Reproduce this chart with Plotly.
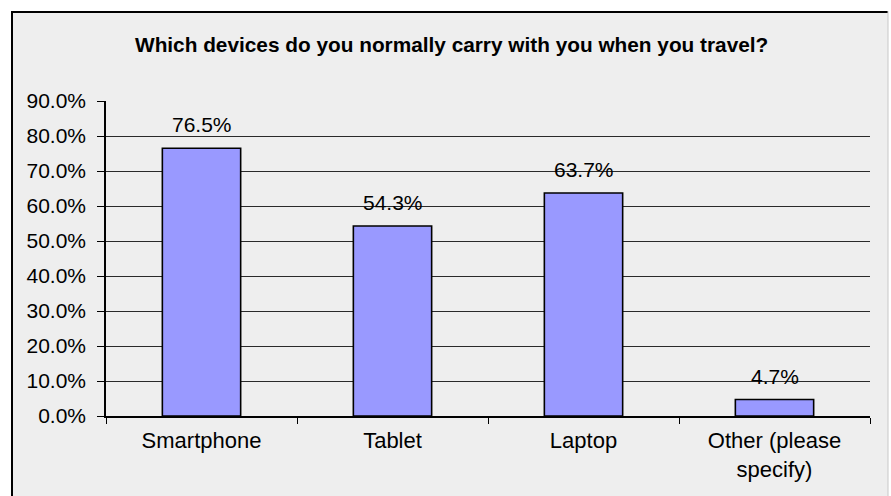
import plotly.graph_objects as go

categories = ["Smartphone", "Tablet", "Laptop", "Other (please<br>specify)"]
values = [76.5, 54.3, 63.7, 4.7]
labels = ["76.5%", "54.3%", "63.7%", "4.7%"]
title_text = "Which devices do you normally carry with you when you travel?"
tick_vals = [0, 10, 20, 30, 40, 50, 60, 70, 80, 90]
tick_text = ["0.0%", "10.0%", "20.0%", "30.0%", "40.0%", "50.0%", "60.0%", "70.0%", "80.0%", "90.0%"]

FONT = "Liberation Sans, Arial, sans-serif"
W, H = 891, 496
L, R, T, B = 106, 21, 101, 80
pw = W - L - R
ph = H - T - B

def px_x(px):
    return (px - L) / pw

def px_y(py):
    return (H - B - py) / ph

fig = go.Figure()
fig.add_trace(go.Bar(
    x=categories, y=values,
    marker=dict(color="#9999FF", line=dict(color="#000000", width=1.6)),
    width=0.41,
    hoverinfo="skip",
))

annotations = []
for c, v, t in zip(categories, values, labels):
    annotations.append(dict(
        x=c, y=v, text=t, showarrow=False, xref="x", yref="y",
        yanchor="bottom", yshift=10,
        font=dict(family=FONT, size=21, color="#000000"),
    ))
annotations.append(dict(
    text="<b>" + title_text + "</b>", showarrow=False,
    xref="paper", yref="paper", x=px_x(451), y=px_y(45),
    xanchor="center", yanchor="middle",
    font=dict(family=FONT, size=20.8, color="#000000"),
))

shapes = [
    dict(type="rect", xref="paper", yref="paper", layer="below",
         x0=px_x(11), x1=px_x(888), y0=px_y(11), y1=px_y(510),
         fillcolor="#EEEEEE", line=dict(width=0)),
    dict(type="line", xref="paper", yref="paper", layer="above",
         x0=px_x(11), x1=px_x(888), y0=px_y(12), y1=px_y(12),
         line=dict(color="#000000", width=2)),
    dict(type="line", xref="paper", yref="paper", layer="above",
         x0=px_x(12), x1=px_x(12), y0=px_y(11), y1=px_y(510),
         line=dict(color="#000000", width=2)),
    dict(type="line", xref="paper", yref="paper", layer="above",
         x0=px_x(888), x1=px_x(888), y0=px_y(11), y1=px_y(510),
         line=dict(color="#C8C8C8", width=1)),
]

fig.update_layout(
    width=W, height=H,
    margin=dict(l=L, r=R, t=T, b=B, pad=0),
    paper_bgcolor="#FFFFFF",
    plot_bgcolor="rgba(0,0,0,0)",
    showlegend=False,
    bargap=0.59,
    annotations=annotations,
    shapes=shapes,
    font=dict(family=FONT, color="#000000"),
)
fig.update_xaxes(
    type="category",
    showline=True, linecolor="#000000", linewidth=1.5,
    ticks="outside", tickson="boundaries", ticklen=6, tickcolor="#000000", tickwidth=1,
    showgrid=False,
    ticklabelstandoff=4,
    tickfont=dict(family=FONT, size=22, color="#000000"),
)
fig.update_yaxes(
    range=[0, 90],
    tickvals=tick_vals, ticktext=tick_text,
    showline=True, linecolor="#000000", linewidth=1.5,
    ticks="outside", ticklen=7, tickcolor="#000000", tickwidth=1,
    showgrid=True, gridcolor="#2A2A2A", gridwidth=1,
    zeroline=False,
    ticklabelstandoff=7,
    tickfont=dict(family=FONT, size=21, color="#000000"),
)

fig.write_html(
    "out.html",
    config={"displayModeBar": False},
    post_script="document.body.style.margin='0';document.body.style.overflow='hidden';",
)
